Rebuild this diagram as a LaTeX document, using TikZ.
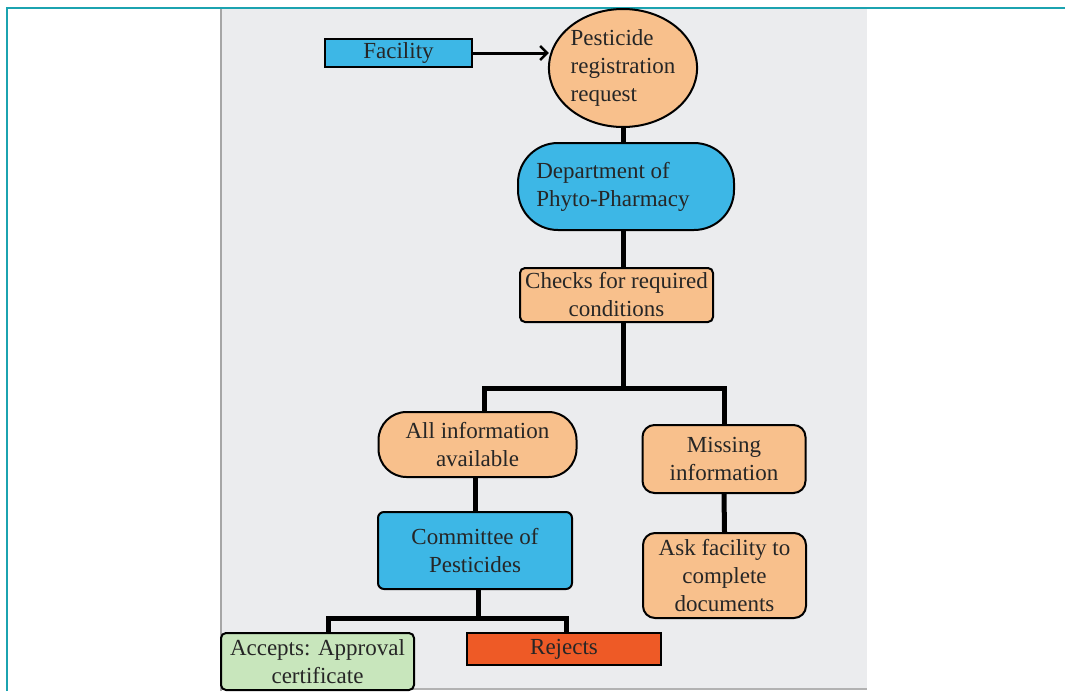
\documentclass[tikz,border=0pt]{standalone}
\usepackage{fontspec}
\newfontfamily\chartfont{LiberationSerif}[Extension=.ttf, UprightFont=*-Regular, BoldFont=*-Bold]
\usetikzlibrary{arrows.meta,shapes.geometric}
\definecolor{frameteal}{HTML}{1BA3B0}
\definecolor{panelgray}{HTML}{EBECEE}
\definecolor{skyblue}{HTML}{3DB7E6}
\definecolor{peach}{HTML}{F8C08C}
\definecolor{palegreen}{HTML}{C8E6BC}
\definecolor{redorange}{HTML}{EE5A26}
\tikzset{
  base/.style={draw=black, line width=2pt, align=center, inner sep=2pt,
    font=\chartfont\fontsize{23}{28}\selectfont, text=black!85},
  bluebox/.style={base, fill=skyblue},
  peachbox/.style={base, fill=peach},
  conn/.style={line width=5pt, line join=miter},
}
\begin{document}
\begin{tikzpicture}[x=1pt,y=-1pt]
\useasboundingbox (0,0) rectangle (1065,691);
% page frame
\fill[white] (0,0) rectangle (1065,691);
\draw[frameteal, line width=2pt] (6.5,691) -- (6.5,8) -- (1065,8);
% grey panel
\fill[panelgray] (221,9) rectangle (867,689);
\draw[gray!70, line width=2pt] (221,9) -- (221,691);
\draw[gray!60, line width=1.5pt] (221,689) -- (867,689);

% nodes
\node[bluebox, minimum width=147pt, minimum height=28pt, inner sep=0pt] (fac) at (398.5,53) {Facility};
\node[peachbox, ellipse, minimum width=146pt, minimum height=118pt, inner sep=0pt, align=left] (req) at (623,68)
  {Pesticide\\registration\\request\hspace*{6pt}};
\node[bluebox, rounded corners=40pt, minimum width=216pt, minimum height=87pt, align=left] (dept) at (626,186.5)
  {Department of\\Phyto-Pharmacy\hspace*{26pt}};
\node[peachbox, rounded corners=5pt, minimum width=193pt, minimum height=54pt] (chk) at (616.5,295)
  {Checks for required\\conditions};
\node[peachbox, rounded corners=28pt, minimum width=198pt, minimum height=65pt] (all) at (477.5,444.5)
  {All information\\available};
\node[peachbox, rounded corners=12pt, minimum width=163pt, minimum height=68pt] (miss) at (724,459)
  {Missing\\information};
\node[bluebox, rounded corners=6pt, minimum width=194pt, minimum height=77pt] (com) at (475,550.5)
  {Committee of\\Pesticides};
\node[peachbox, rounded corners=12pt, minimum width=163pt, minimum height=85pt] (ask) at (724.5,575.5)
  {Ask facility to\\complete\\documents};
\node[base, fill=palegreen, rounded corners=5pt, minimum width=193pt, minimum height=57pt] (acc) at (317.5,661.5)
  {Accepts: Approval\\certificate};
\node[base, fill=redorange, minimum width=194pt, minimum height=32pt, inner sep=0pt] (rej) at (564,649)
  {Rejects};

% connectors
\draw[line width=3pt, -{Straight Barb[length=7pt,width=14pt,line width=2.5pt]}]
  (fac.east) -- ([xshift=1pt]fac.east -| req.west);
\draw[conn] (req.south) -- (dept.north -| req.south);
\coordinate (split) at (623,388);
\draw[conn] (dept.south -| split) -- (chk.north -| split);
\coordinate (acctop) at (328,633);
\coordinate (alltop) at (484,412);
\draw[conn] (chk.south -| split) -- (split);
\draw[conn] (split) -| (alltop);
\draw[conn] (split) -| (miss.north);
\draw[conn] (all.south -| com.north) -- (com.north);
\draw[conn] (miss.south) -- (ask.north);
\coordinate (vote) at (478,618);
\draw[conn] (com.south -| vote) -- (vote);
\draw[conn] (vote) -| (acctop);
\draw[conn] (vote) -| (rej.north -| 566,0);
\end{tikzpicture}
\end{document}
